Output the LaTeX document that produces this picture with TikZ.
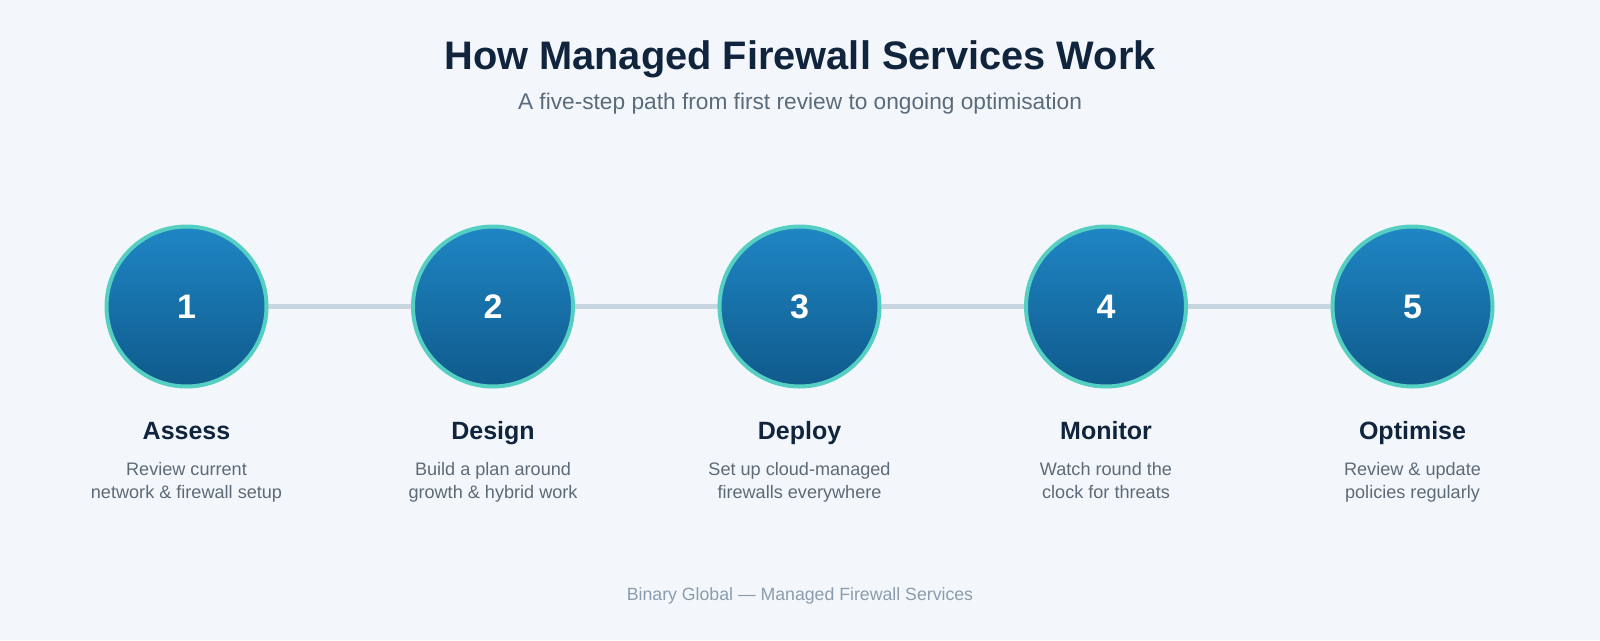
\documentclass[tikz,border=0pt]{standalone}
\usepackage{fontspec}
\setmainfont{Liberation Sans}
\definecolor{bg}{HTML}{F3F7FB}
\definecolor{titlec}{HTML}{10253D}
\definecolor{subc}{HTML}{5A6B7C}
\definecolor{descc}{HTML}{5D6A78}
\definecolor{footc}{HTML}{8A9CAD}
\definecolor{linec}{HTML}{C7D6E0}
\definecolor{ringc}{HTML}{56CFC3}
\definecolor{topc}{HTML}{1F86C4}
\definecolor{botc}{HTML}{0F5A8B}
\tikzset{
  stepcircle/.style={circle, minimum size=160pt, inner sep=0pt, draw=ringc, line width=4pt,
     top color=topc, bottom color=botc, text=white, font=\fontsize{34}{34}\selectfont\bfseries},
  connector/.style={draw=linec, line width=5pt},
  steptitle/.style={anchor=base, text=titlec, font=\fontsize{25}{25}\selectfont\bfseries},
  stepdesc/.style={anchor=base, text=descc, align=center, font=\fontsize{18.1}{23.3}\selectfont},
}
\begin{document}
\begin{tikzpicture}[x=1pt,y=-1pt]
\fill[bg] (0,0) rectangle (1600,640);
\useasboundingbox (0,0) rectangle (1600,640);
\node[anchor=base, text=titlec, font=\fontsize{39.8}{39.8}\selectfont\bfseries] (title) at (800,69.5) {How Managed Firewall Services Work};
\node[anchor=base, text=subc, font=\fontsize{22.7}{22.7}\selectfont] (subtitle) at (800,109.3) {A five-step path from first review to ongoing optimisation};
\foreach \i/\x/\t/\da/\db in {1/186.5/Assess/Review current/network \& firewall setup,
  2/493/Design/Build a plan around/growth \& hybrid work,
  3/799.5/Deploy/Set up cloud-managed/firewalls everywhere,
  4/1106/Monitor/Watch round the/clock for threats,
  5/1412.5/Optimise/Review \& update/policies regularly}{
  \node[steptitle] (t\i) at (\x,439.5) {\t};
  \node[stepdesc] (d\i) at (\x,498.3) {\da\\\db};
}
\foreach \a/\b in {1/2,2/3,3/4,4/5}{
  \path[connector] (\a*306.5-120,306.5) -- (\b*306.5-120,306.5);
}
\foreach \i/\x in {1/186.5,2/493,3/799.5,4/1106,5/1412.5}{
  \node[stepcircle] (c\i) at (\x,306.5) {\i};
}
\node[anchor=base, text=footc, font=\fontsize{17.7}{17.7}\selectfont] (footer) at (800,600.7) {Binary Global — Managed Firewall Services};
\end{tikzpicture}
\end{document}
